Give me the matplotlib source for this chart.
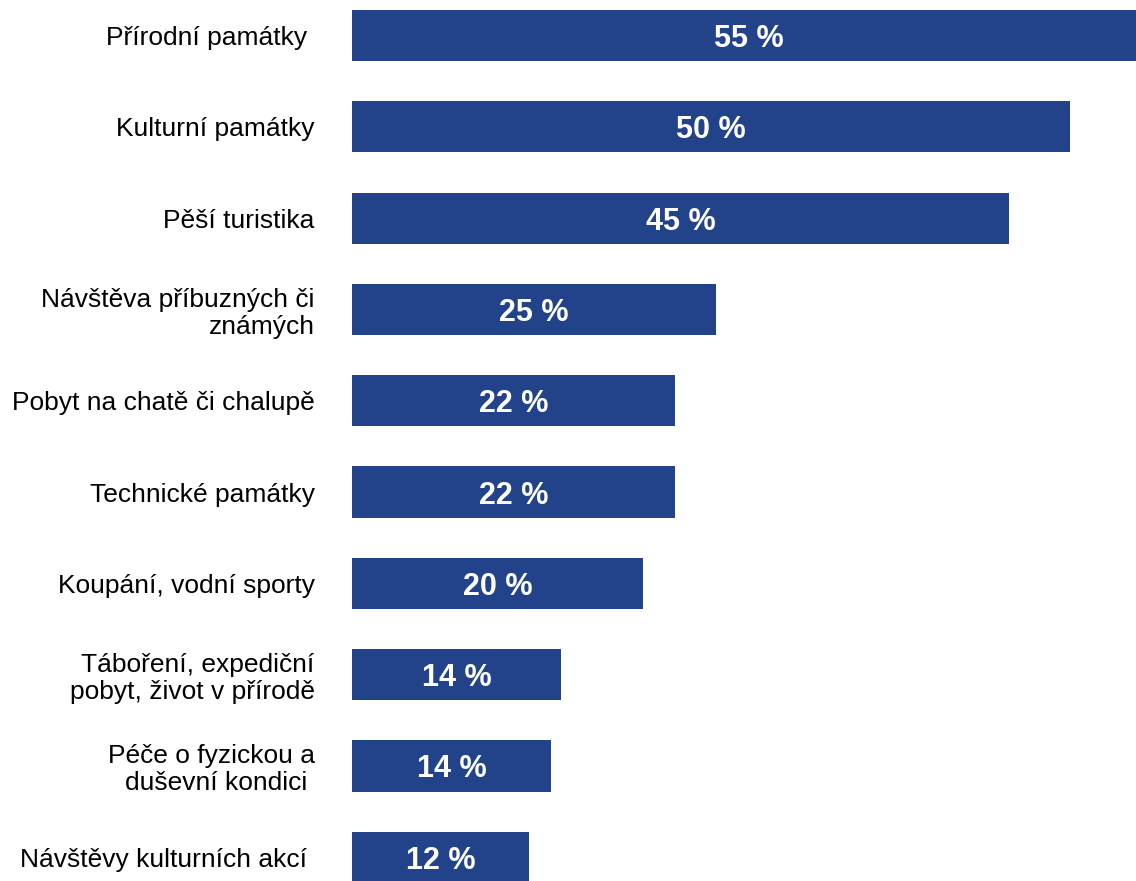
import matplotlib
matplotlib.use("Agg")
import matplotlib.pyplot as plt

categories = [
    "Přírodní památky ",
    "Kulturní památky",
    "Pěší turistika",
    "Návštěva příbuzných či\nznámých",
    "Pobyt na chatě či chalupě",
    "Technické památky",
    "Koupání, vodní sporty",
    "Táboření, expediční\npobyt, život v přírodě",
    "Péče o fyzickou a\nduševní kondici ",
    "Návštěvy kulturních akcí ",
]
values = [54.8, 49.5, 45.3, 25.1, 22.3, 22.3, 20.1, 14.4, 13.7, 12.2]
value_labels = ["55 %", "50 %", "45 %", "25 %", "22 %", "22 %", "20 %", "14 %", "14 %", "12 %"]

BAR_COLOR = "#22428A"

plt.rcParams["font.family"] = ["Liberation Sans", "DejaVu Sans"]

fig = plt.figure(figsize=(11.36, 8.81), dpi=100)
ax = fig.add_axes([352 / 1136, 0.0, 1 - 352 / 1136, 1.0])

ypos = list(range(len(categories)))
ax.barh(ypos, values, height=0.56, color=BAR_COLOR)

for y, v, lab in zip(ypos, values, value_labels):
    ax.text(v / 2, y, lab, ha="center", va="center_baseline", color="white",
            fontsize=22, fontweight="bold")

ax.set_xlim(0, 784 / 14.5)
ax.set_ylim(9.26, -0.389)
ax.set_yticks(ypos)
ax.set_yticklabels(categories, fontsize=19, ha="right", linespacing=1.15)
ax.tick_params(axis="y", length=0, pad=27)
ax.set_xticks([])
for s in ax.spines.values():
    s.set_visible(False)

fig.savefig("out.png", dpi=100)
